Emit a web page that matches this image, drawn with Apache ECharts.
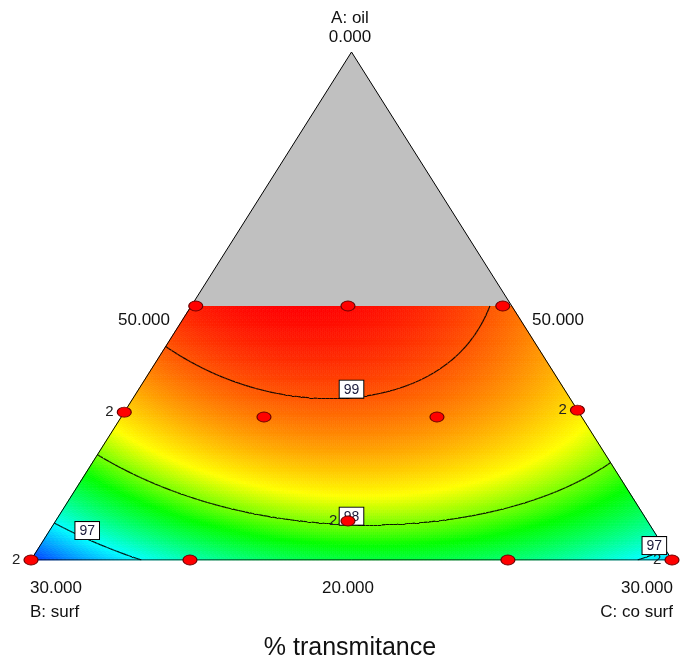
<!DOCTYPE html>
<html><head><meta charset="utf-8">
<script src="https://cdn.jsdelivr.net/npm/echarts@6/dist/echarts.min.js"></script>
<style>html,body{margin:0;padding:0;background:#fff}#chart{width:682px;height:666px}</style>
</head><body><div id="chart"></div>
<script>
// Fitted Scheffé cubic model for % transmitance (pseudo-component fractions A, B, C)
// terms: A, B, C, AB, AC, BC, ABC, AB(A-B), AC(A-C), BC(B-C)
const modelCoefs = [99.933, 96.313, 96.850, 4.442, 2.108, 3.90, 4.692, -2.149, -2.431, 0.417];

// design runs: A, B, C fractions and replicate count
const runA = [0.5, 0.5, 0.5, 0.291, 0.295, 0.2815, 0.2815, 0.0768, 0, 0, 0, 0];
const runB = [0.493, 0.2555, 0.014, 0.709, 0, 0.4958, 0.2259, 0.4671, 1, 0.752, 0.256, 0];
const runC = [0.007, 0.2445, 0.486, 0, 0.705, 0.2227, 0.4926, 0.4561, 0, 0.248, 0.744, 1];
const runN = [1, 1, 1, 2, 2, 1, 1, 2, 2, 1, 1, 2];

// contour levels and where their flags sit (level, C/(B+C) ratio of the ray)
const levels = [97, 98, 99];
const labelLevel = [99, 98, 97, 97];
const labelRay = [0.5, 0.5, 0.07, 0.978];

// vertex / edge annotations
const vertexTitles = ['A: oil', 'B: surf', 'C: co surf'];
const vertexValues = ['0.000', '30.000', '30.000'];
const edgeValues = ['50.000', '50.000', '20.000'];
const chartTitle = '% transmitance';

// colour ramp of the response
const rampValues = [96.15, 97.0, 97.75, 98.3, 99.35];
const rampColors = ['#0000ff', '#00ffff', '#00ff00', '#ffff00', '#ff0000'];

function terms(a, b, c) {
  return [a, b, c, a*b, a*c, b*c, a*b*c, a*b*(a-b), a*c*(a-c), b*c*(b-c)];
}
function resp(a, b, c) {
  const t = terms(a, b, c); let s = 0;
  for (let i = 0; i < t.length; i++) s += modelCoefs[i] * t[i];
  return s;
}
function hex(c) { return [1, 3, 5].map(i => parseInt(c.substr(i, 2), 16)); }
function rampColor(v) {
  if (v <= rampValues[0]) return rampColors[0];
  for (let i = 1; i < rampValues.length; i++) {
    if (v <= rampValues[i]) {
      const f = (v - rampValues[i-1]) / (rampValues[i] - rampValues[i-1]);
      const c0 = hex(rampColors[i-1]), c1 = hex(rampColors[i]);
      return 'rgb(' + c0.map((x, k) => Math.round(x + f * (c1[k] - x))).join(',') + ')';
    }
  }
  return rampColors[rampColors.length - 1];
}

// ternary -> cartesian (x along the base, y = A fraction)
function xy(a, c) { return [c + a / 2, a]; }

// triangular mesh over the feasible region (A <= 0.5)
const N = 160;
const cells = [], segs = [];
function tri(p) {
  const v = p.map(q => resp(q[0], 1 - q[0] - q[1], q[1]));
  const ca = (p[0][0] + p[1][0] + p[2][0]) / 3, cc = (p[0][1] + p[1][1] + p[2][1]) / 3;
  const val = resp(ca, 1 - ca - cc, cc);
  const P = p.map(q => xy(q[0], q[1]));
  cells.push([P[0][0], P[0][1], P[1][0], P[1][1], P[2][0], P[2][1], val]);
  levels.forEach(L => {
    const pts = [];
    for (let k = 0; k < 3; k++) {
      const k2 = (k + 1) % 3, v1 = v[k], v2 = v[k2];
      if ((v1 - L) * (v2 - L) < 0) {
        const t = (L - v1) / (v2 - v1);
        pts.push([P[k][0] + t * (P[k2][0] - P[k][0]), P[k][1] + t * (P[k2][1] - P[k][1])]);
      }
    }
    if (pts.length === 2) segs.push({ coords: pts });
  });
}
for (let i = 0; i < N / 2; i++) {
  const a0 = i / N, a1 = (i + 1) / N, m = N - i;
  for (let j = 0; j < m; j++) {
    const c0 = j / N, c1 = (j + 1) / N;
    tri([[a0, c0], [a0, c1], [a1, c0]]);
    if (j < m - 1) tri([[a0, c1], [a1, c1], [a1, c0]]);
  }
}

// flag anchors: climb a ray of fixed C/(B+C) until the contour level is met
const labelPts = labelLevel.map((L, k) => {
  const t = labelRay[k]; let lo = 0, hi = 0.5;
  const g = a => resp(a, (1 - t) * (1 - a), t * (1 - a)) - L;
  for (let it = 0; it < 50; it++) { const mid = (lo + hi) / 2; if (g(lo) * g(mid) <= 0) hi = mid; else lo = mid; }
  const a = (lo + hi) / 2;
  return { value: xy(a, t * (1 - a)), name: String(L) };
});

const runs = runA.map((a, i) => ({ value: xy(a, runC[i]), label: { show: runN[i] > 1, formatter: String(runN[i]) } }));
const outline = [xy(0, 0), xy(1, 0), xy(0, 1), xy(0, 0)];
const grayZone = [[0.5, 0], [1, 0], [0.5, 0.5]].map(q => xy(q[0], q[1]));

const FONT = '"Liberation Sans", Arial, sans-serif';
function txt(x, y, s, size, align) {
  return { type: 'text', x: x, y: y, z: 100, style: { text: s, fontSize: size, fontFamily: FONT, fill: '#111', align: align || 'center', verticalAlign: 'middle' } };
}

const chart = echarts.init(document.getElementById('chart'), null, { renderer: 'canvas' });
chart.setOption({
  animation: false,
  grid: { left: 31, right: 10, top: 52, bottom: 106 },
  xAxis: { type: 'value', min: 0, max: 1, show: false },
  yAxis: { type: 'value', min: 0, max: 1, show: false },
  series: [
    { type: 'custom', progressive: 0, silent: true, data: cells, z: 1,
      renderItem: (params, api) => {
        const p = [api.coord([api.value(0), api.value(1)]), api.coord([api.value(2), api.value(3)]), api.coord([api.value(4), api.value(5)])];
        const col = rampColor(api.value(6));
        return { type: 'polygon', shape: { points: p }, style: { fill: col, stroke: col, lineWidth: 0.7 } };
      } },
    { type: 'custom', silent: true, z: 2, data: [0],
      renderItem: (params, api) => ({ type: 'polygon', shape: { points: grayZone.map(q => api.coord(q)) }, style: { fill: '#c0c0c0' } }) },
    { type: 'lines', coordinateSystem: 'cartesian2d', z: 3, silent: true, data: segs,
      lineStyle: { color: '#000', width: 1.2, opacity: 0.9 } },
    { type: 'line', z: 4, silent: true, data: outline, symbol: 'none', lineStyle: { color: '#000', width: 1 } },
    { type: 'scatter', z: 5, silent: true, data: labelPts, symbolSize: 0, itemStyle: { opacity: 1 },
      label: { show: true, position: 'top', distance: 0, formatter: '{b}', fontSize: 14, fontFamily: FONT, color: '#1a1a3a',
        backgroundColor: '#ffffff', borderColor: '#000', borderWidth: 1, padding: [2, 4, 1, 4], opacity: 1 } },
    { type: 'scatter', z: 6, silent: true, data: runs, symbol: 'circle', symbolSize: [14, 10],
      itemStyle: { color: '#ff0000', borderColor: '#6a0000', borderWidth: 1, opacity: 1 },
      label: { position: 'left', distance: 3, fontSize: 15, fontFamily: FONT, color: '#222' } }
  ],
  graphic: [
    txt(350, 18, vertexTitles[0], 17), txt(350, 37, vertexValues[0], 17),
    txt(144, 320, edgeValues[0], 17), txt(558, 320, edgeValues[1], 17),
    txt(30, 588, vertexValues[1], 17, 'left'), txt(30, 612, vertexTitles[1], 17, 'left'),
    txt(348, 588, edgeValues[2], 17),
    txt(673, 588, vertexValues[2], 17, 'right'), txt(673, 612, vertexTitles[2], 17, 'right'),
    txt(350, 648, chartTitle, 25)
  ]
});
</script></body></html>
